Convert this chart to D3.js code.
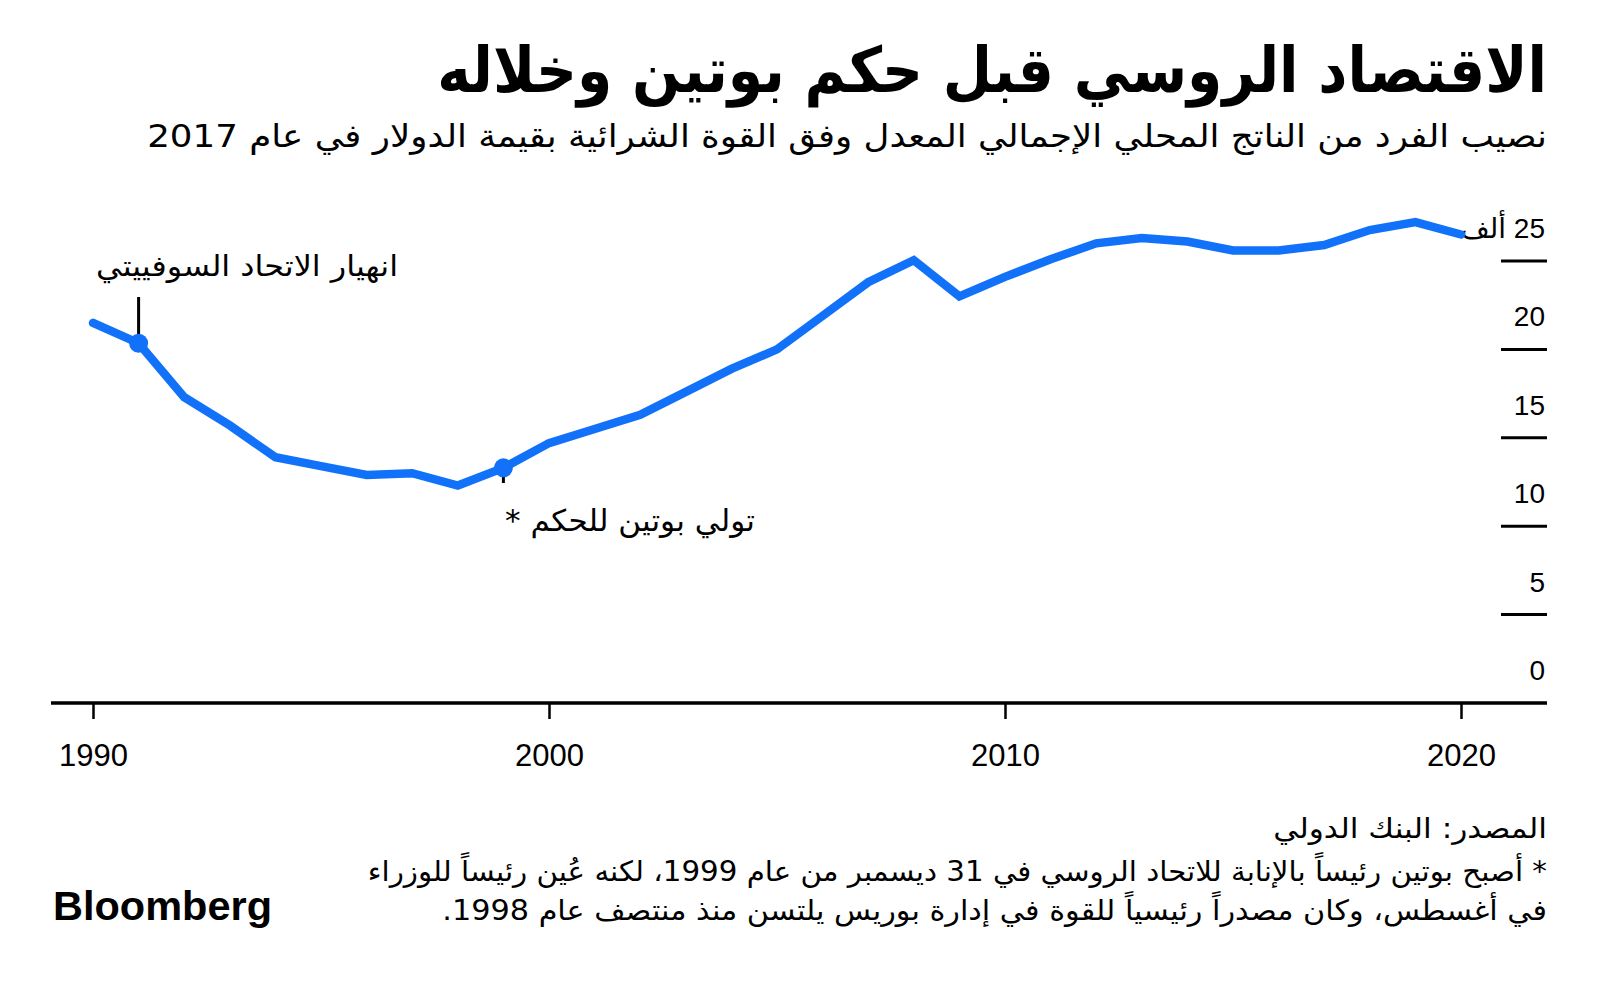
<!DOCTYPE html>
<html>
<head>
<meta charset="utf-8">
<script src="https://cdn.jsdelivr.net/npm/d3@7"></script>
<style>
html,body{margin:0;padding:0;background:#fff;}
svg{display:block;}
</style>
</head>
<body>
<script>
// ---- data ----
const years = [1990,1991,1992,1993,1994,1995,1996,1997,1998,1999,2000,2001,2002,2003,2004,2005,2006,2007,2008,2009,2010,2011,2012,2013,2014,2015,2016,2017,2018,2019,2020];
// GDP per capita, PPP, constant 2017 USD (thousands)
const gdpPerCapita = [21.5,20.35,17.3,15.7,13.9,13.4,12.9,13.0,12.3,13.3,14.7,15.5,16.3,17.6,18.9,20.0,21.9,23.8,25.05,23.0,24.1,25.1,26.0,26.3,26.1,25.6,25.6,25.9,26.75,27.2,26.5];
const xTicks = [1990,2000,2010,2020];
const yTicks = [0,5,10,15,20,25];
const yTickLabels = ["0","5","10","15","20","25 ألف"];
const highlightYears = [1991,1999];
const annotations = ["انهيار الاتحاد السوفييتي","تولي بوتين للحكم *"];
const titleText = "الاقتصاد الروسي قبل حكم بوتين وخلاله";
const subtitleText = "نصيب الفرد من الناتج المحلي الإجمالي المعدل وفق القوة الشرائية بقيمة الدولار في عام 2017";
const sourceText = "المصدر: البنك الدولي";
const noteLines = ["* أصبح بوتين رئيساً بالإنابة للاتحاد الروسي في 31 ديسمبر من عام 1999، لكنه عُين رئيساً للوزراء","في أغسطس، وكان مصدراً رئيسياً للقوة في إدارة بوريس يلتسن منذ منتصف عام 1998."];

const W = 1600, H = 985;
const BLUE = "#1172f9";
const AR = "'DejaVu Sans', sans-serif";
const LAT = "'Liberation Sans', Arial, 'DejaVu Sans', sans-serif";

const svg = d3.select("body").append("svg").attr("width", W).attr("height", H);
svg.append("rect").attr("width", W).attr("height", H).attr("fill", "#fff");

const x = d3.scaleLinear().domain([1990, 2020]).range([93, 1461]);
const y = d3.scaleLinear().domain([0, 25]).range([703, 261]);

// RTL text helper: right edge anchored, optional horizontal fit
function rtlText(str, o) {
  const g = svg.append("g");
  const t = g.append("text")
    .attr("direction", "rtl")
    .style("font-family", o.family || AR)
    .style("font-size", o.size + "px")
    .style("font-weight", o.weight || "normal")
    .attr("fill", o.fill || "#000")
    .attr("x", 0).attr("y", 0)
    .text(str);
  const bb = t.node().getBBox();
  const k = o.width ? o.width / bb.width : 1;
  t.attr("x", -(bb.x + bb.width));
  g.attr("transform", `translate(${o.right},${o.baseline}) scale(${k},1)`);
  return g;
}

// ---- titles ----
rtlText(titleText, {right: 1547, baseline: 92, size: 63, weight: "bold", width: 1110});
rtlText(subtitleText, {right: 1547, baseline: 147, size: 32, width: 1400});

// ---- y axis ticks (short dashes at right) ----
const yg = svg.append("g");
yg.selectAll("line").data(yTicks.filter(d => d > 0)).join("line")
  .attr("x1", 1501).attr("x2", 1547)
  .attr("y1", d => y(d)).attr("y2", d => y(d))
  .attr("stroke", "#000").attr("stroke-width", 3);
yTicks.forEach((d, i) => {
  rtlText(yTickLabels[i], {right: 1545, baseline: y(d) - 23, size: 28, family: LAT});
});

// ---- x axis ----
const xAxis = d3.axisBottom(x).tickValues(xTicks).tickFormat(d3.format("d")).tickSize(16).tickSizeOuter(0);
const xg = svg.append("g").attr("transform", `translate(0,${y(0)})`).call(xAxis);
xg.select(".domain").remove();
xg.selectAll(".tick line").attr("stroke", "#000").attr("stroke-width", 2.5);
xg.selectAll(".tick text").attr("y", 63).attr("dy", 0)
  .style("font-family", LAT).style("font-size", "31px").attr("fill", "#000");
svg.append("line").attr("x1", 51).attr("x2", 1547).attr("y1", y(0)).attr("y2", y(0))
  .attr("stroke", "#000").attr("stroke-width", 3.5);

// ---- annotations leader lines ----
const i1991 = years.indexOf(highlightYears[0]);
const i1999 = years.indexOf(highlightYears[1]);
svg.append("line").attr("x1", x(1991)).attr("x2", x(1991))
  .attr("y1", 297).attr("y2", y(gdpPerCapita[i1991]))
  .attr("stroke", "#000").attr("stroke-width", 3);
svg.append("line").attr("x1", x(1999)).attr("x2", x(1999))
  .attr("y1", y(gdpPerCapita[i1999])).attr("y2", 483)
  .attr("stroke", "#000").attr("stroke-width", 3);

// ---- line ----
const line = d3.line().x((d, i) => x(years[i])).y(d => y(d));
svg.append("path").datum(gdpPerCapita)
  .attr("d", line)
  .attr("fill", "none").attr("stroke", BLUE).attr("stroke-width", 8.5)
  .attr("stroke-linecap", "round").attr("stroke-linejoin", "miter");

svg.selectAll("circle.hl").data(highlightYears).join("circle")
  .attr("class", "hl")
  .attr("cx", d => x(d)).attr("cy", d => y(gdpPerCapita[years.indexOf(d)]))
  .attr("r", 9.5).attr("fill", BLUE);

// ---- annotation texts ----
rtlText(annotations[0], {right: 398, baseline: 276, size: 29, width: 302});
rtlText(annotations[1], {right: 755, baseline: 531, size: 30, width: 250});

// ---- footer ----
rtlText(sourceText, {right: 1547, baseline: 838, size: 28, width: 274});
rtlText(noteLines[0], {right: 1547, baseline: 881, size: 28, width: 1180});
rtlText(noteLines[1], {right: 1547, baseline: 920, size: 28, width: 1105});

svg.append("text").attr("x", 53).attr("y", 920)
  .style("font-family", LAT).style("font-size", "40px").style("font-weight", "bold")
  .attr("textLength", 219).attr("lengthAdjust", "spacingAndGlyphs")
  .attr("fill", "#000").text("Bloomberg");
</script>
</body>
</html>
